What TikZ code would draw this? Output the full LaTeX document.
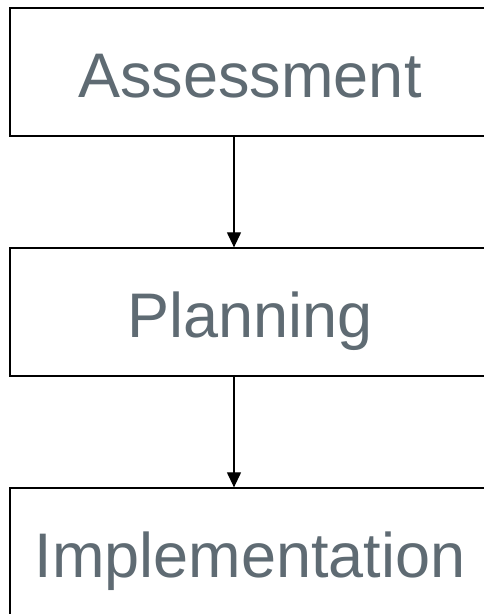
\documentclass[tikz,border=0pt]{standalone}
\usepackage{fontspec}
\setmainfont{Liberation Sans}
\usetikzlibrary{arrows.meta}
\definecolor{txtgray}{RGB}{95,107,115}
\tikzset{
  stagebox/.style={draw=black, line width=1.3pt, fill=white, minimum width=480pt, minimum height=128pt,
    inner sep=0pt, text=txtgray, font=\fontsize{63}{70}\selectfont, text height=50pt, text depth=0pt, anchor=center},
  flowarrow/.style={draw=black, line width=1.2pt, -{Triangle[length=15pt,width=14pt]}}
}
\begin{document}
\begin{tikzpicture}[x=1pt,y=-1pt]
\useasboundingbox (0,0) rectangle (484,614);
\node[stagebox] (a) at (250,72) {Assessment};
\node[stagebox] (p) at (250,312) {Planning};
\node[stagebox] (i) at (250,552) {Implementation};
\coordinate (ax) at (234,0);
\draw[flowarrow] (a.south -| ax) -- (p.north -| ax);
\draw[flowarrow] (p.south -| ax) -- (i.north -| ax);
\end{tikzpicture}
\end{document}
